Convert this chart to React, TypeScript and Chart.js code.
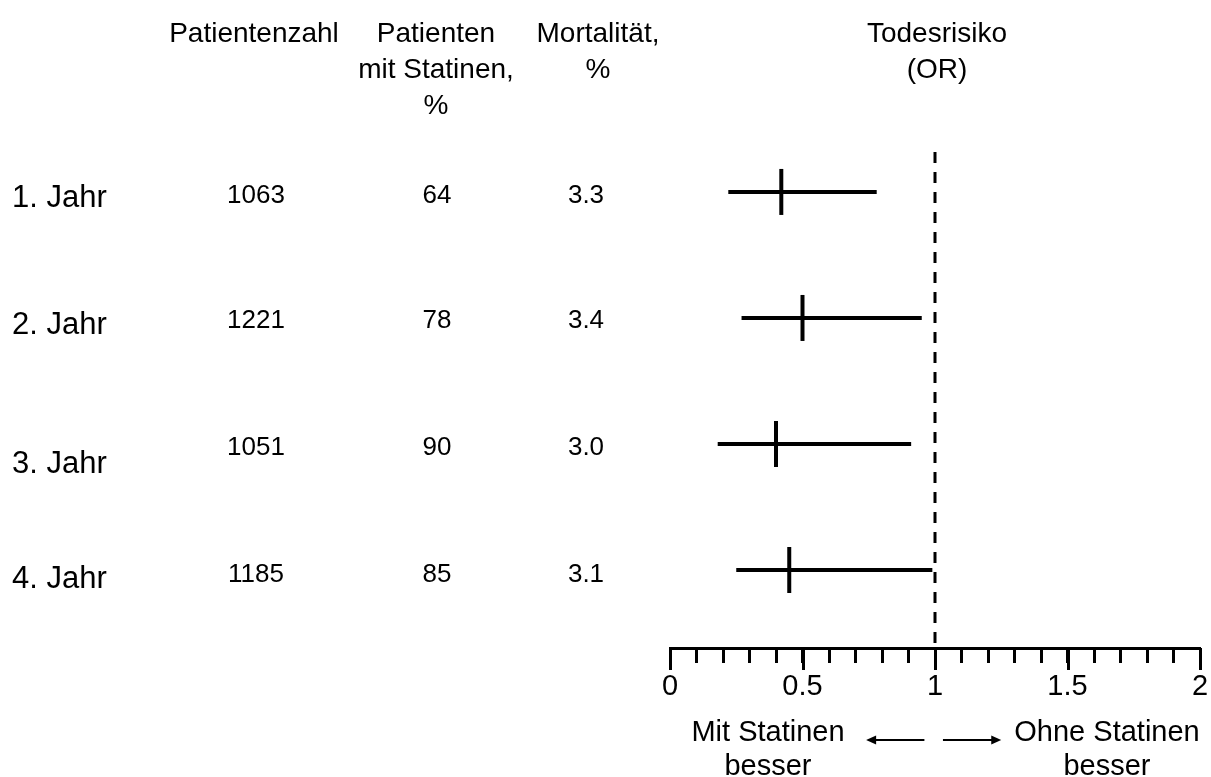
import React, { useEffect, useRef } from 'react';
import { Chart, registerables } from 'chart.js';

Chart.register(...registerables);

// ---- data ----
const years = ['1. Jahr', '2. Jahr', '3. Jahr', '4. Jahr'];
const patientCounts = ['1063', '1221', '1051', '1185'];
const statinShares = ['64', '78', '90', '85'];
const mortality = ['3.3', '3.4', '3.0', '3.1'];
const oddsRatios = [0.42, 0.5, 0.4, 0.45];
const ciLower = [0.22, 0.27, 0.18, 0.25];
const ciUpper = [0.78, 0.95, 0.91, 0.99];
const tickLabels = ['0', '0.5', '1', '1.5', '2'];
const headerColumns = [['Patientenzahl'], ['Patienten', 'mit Statinen,', '%'], ['Mortalität,', '%']];
const headerOR = ['Todesrisiko', '(OR)'];
const noteLeft = ['Mit Statinen', 'besser'];
const noteRight = ['Ohne Statinen', 'besser'];
const referenceOR = 1;

// ---- layout constants ----
const W = 1211;
const H = 777;
const FONT = "'Liberation Sans', Arial, sans-serif";
const Y_MIN = -0.317;
const Y_MAX = 3.619;
const headerX = [254, 436, 598];
const valueX = [256, 437, 586];
const headerBaselines = [42, 78, 114];
const labelDy = [7, 7, 20, 9];
const valueDy = [4, 3, 4, 5];

const tablePlugin = {
  id: 'forestTable',
  afterDraw(chart: any) {
    const ctx = chart.ctx;
    const y = chart.scales.y;
    const x = chart.scales.x;
    ctx.save();
    ctx.fillStyle = '#000';
    ctx.strokeStyle = '#000';

    // headers
    ctx.font = `28px ${FONT}`;
    ctx.textAlign = 'center';
    ctx.textBaseline = 'alphabetic';
    headerColumns.forEach((lines, c) => {
      lines.forEach((t, l) => ctx.fillText(t, headerX[c], headerBaselines[l]));
    });
    headerOR.forEach((t, l) => ctx.fillText(t, x.getPixelForValue(referenceOR) + 2, headerBaselines[l]));

    // rows
    ctx.textBaseline = 'middle';
    years.forEach((label, i) => {
      const py = y.getPixelForValue(i);
      ctx.font = `31px ${FONT}`;
      ctx.textAlign = 'left';
      ctx.fillText(label, 12, py + labelDy[i]);
      ctx.font = `26px ${FONT}`;
      ctx.textAlign = 'center';
      ctx.fillText(patientCounts[i], valueX[0], py + valueDy[i]);
      ctx.fillText(statinShares[i], valueX[1], py + valueDy[i]);
      ctx.fillText(mortality[i], valueX[2], py + valueDy[i]);
    });

    // major ticks (longer)
    const axisY = chart.chartArea.bottom;
    ctx.lineWidth = 3;
    tickLabels.forEach((t) => {
      const px = Math.round(x.getPixelForValue(parseFloat(t))) + 0.5;
      ctx.beginPath();
      ctx.moveTo(px, axisY);
      ctx.lineTo(px, axisY + 22);
      ctx.stroke();
    });

    // bottom notes
    ctx.font = `29px ${FONT}`;
    ctx.textAlign = 'center';
    ctx.textBaseline = 'alphabetic';
    noteLeft.forEach((t, l) => ctx.fillText(t, 768, 741 + l * 34));
    noteRight.forEach((t, l) => ctx.fillText(t, 1107, 741 + l * 34));

    // arrows
    const arrow = (from: number, to: number) => {
      const x1 = x.getPixelForValue(from);
      const x2 = x.getPixelForValue(to);
      const ay = 740;
      const dir = Math.sign(x2 - x1);
      ctx.lineWidth = 2;
      ctx.beginPath();
      ctx.moveTo(x1, ay);
      ctx.lineTo(x2 - dir * 4, ay);
      ctx.stroke();
      ctx.beginPath();
      ctx.moveTo(x2, ay);
      ctx.lineTo(x2 - dir * 10, ay - 4.5);
      ctx.lineTo(x2 - dir * 10, ay + 4.5);
      ctx.closePath();
      ctx.fill();
    };
    arrow(0.96, 0.74);
    arrow(1.03, 1.25);
    ctx.restore();
  },
};

export default function App() {
  const ref = useRef<HTMLCanvasElement | null>(null);

  useEffect(() => {
    document.body.style.margin = '0';
    const canvas = ref.current;
    if (!canvas) return;
    Chart.defaults.font.family = FONT;

    const ciSets = years.map((_, i) => ({
      type: 'line' as const,
      data: [
        { x: ciLower[i], y: i },
        { x: ciUpper[i], y: i },
      ],
      borderColor: '#000',
      borderWidth: 4,
      borderCapStyle: 'butt' as const,
      pointRadius: 0,
      showLine: true,
    }));

    const chart = new Chart(canvas, {
      type: 'scatter',
      data: {
        datasets: [
          {
            type: 'line',
            data: [
              { x: referenceOR, y: Y_MIN },
              { x: referenceOR, y: Y_MAX },
            ],
            borderColor: '#000',
            borderWidth: 3,
            borderDash: [11, 9],
            pointRadius: 0,
            showLine: true,
          } as any,
          ...ciSets,
          {
            data: oddsRatios.map((v, i) => ({ x: v, y: i })),
            pointStyle: 'line',
            rotation: 90,
            pointRadius: 23,
            borderWidth: 4,
            borderColor: '#000',
            backgroundColor: '#000',
          } as any,
        ],
      },
      options: {
        responsive: false,
        animation: false,
        devicePixelRatio: 1,
        layout: { autoPadding: false, padding: { left: 670, right: 11, top: 152, bottom: 0 } },
        plugins: {
          legend: { display: false },
          tooltip: { enabled: false },
          title: { display: false },
        },
        scales: {
          x: {
            type: 'linear',
            position: 'bottom',
            min: 0,
            max: 2,
            afterFit: (scale: any) => {
              scale.height = H - 648;
              scale.paddingLeft = 0;
              scale.paddingRight = 0;
            },
            border: { display: true, color: '#000', width: 3 },
            grid: {
              drawOnChartArea: false,
              drawTicks: true,
              tickLength: 15,
              tickWidth: 3,
              tickColor: '#000',
            },
            ticks: {
              stepSize: 0.1,
              autoSkip: false,
              maxRotation: 0,
              padding: 7,
              color: '#000',
              font: { size: 29, family: FONT },
              callback: (value: any) => {
                const v = Number(value) * 2;
                const idx = Math.round(v);
                return Math.abs(v - idx) < 1e-6 ? tickLabels[idx] : '';
              },
            },
          },
          y: {
            type: 'linear',
            display: false,
            min: Y_MIN,
            max: Y_MAX,
            reverse: true,
          },
        },
      },
      plugins: [tablePlugin],
    });

    return () => chart.destroy();
  }, []);

  return (
    <div style={{ position: 'absolute', left: 0, top: 0, width: W, height: H, background: '#fff' }}>
      <canvas ref={ref} width={W} height={H} style={{ width: W, height: H, display: 'block' }} />
    </div>
  );
}
